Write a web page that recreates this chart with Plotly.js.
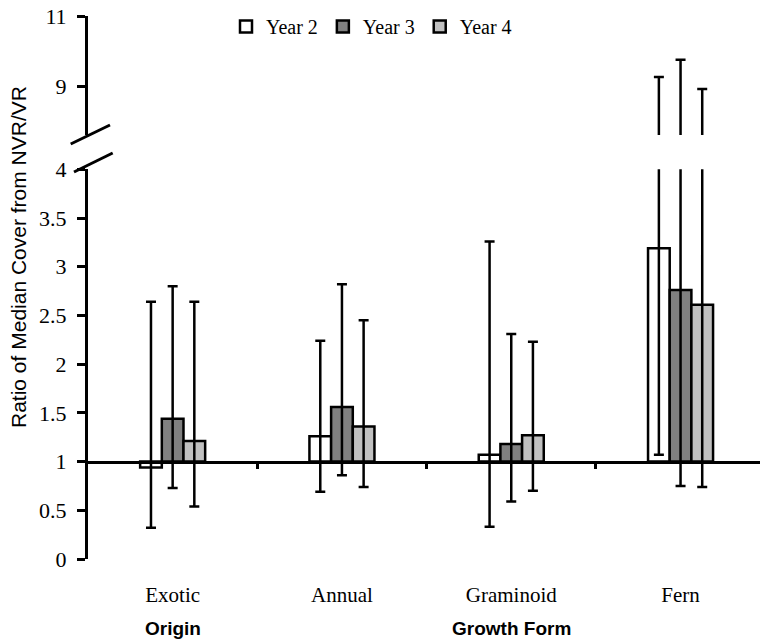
<!DOCTYPE html>
<html>
<head>
<meta charset="utf-8">
<script src="https://cdn.plot.ly/plotly-3.0.1.min.js"></script>
<style>html,body{margin:0;padding:0;background:#fff;}#chart{width:760px;height:639px;}</style>
</head>
<body>
<div id="chart"></div>
<script>
// ---- data ----
const categories = ['Exotic', 'Annual', 'Graminoid', 'Fern'];
const seriesNames = ['Year 2', 'Year 3', 'Year 4'];
const year2 = [0.94, 1.26, 1.07, 3.19];
const year3 = [1.44, 1.56, 1.18, 2.76];
const year4 = [1.21, 1.36, 1.27, 2.61];
const year2High = [2.64, 2.24, 3.26, 9.27];
const year3High = [2.80, 2.82, 2.31, 9.76];
const year4High = [2.64, 2.45, 2.23, 8.93];
const year2Low = [0.32, 0.69, 0.33, 1.07];
const year3Low = [0.73, 0.86, 0.59, 0.75];
const year4Low = [0.54, 0.74, 0.70, 0.74];
const baseline = 1;
const lowerTicks = [0, 0.5, 1, 1.5, 2, 2.5, 3, 3.5, 4];
const upperTicks = [9, 11];
const boundaryTicks = [0.5, 1.5, 2.5];
const groupLabels = ['Origin', 'Growth Form'];
const groupAt = ['Exotic', 'Graminoid'];
const yTitle = 'Ratio of Median Cover from NVR/VR';

// ---- styles ----
const fills = ['#ffffff', '#808080', '#c0c0c0'];
const serif = 'Liberation Serif, Times New Roman, serif';
const sans = 'Liberation Sans, Arial, sans-serif';
const values = [year2, year3, year4];
const highs = [year2High, year3High, year4High];
const lows = [year2Low, year3Low, year4Low];

const traces = [];
['y', 'y2'].forEach((ya, k) => {
  values.forEach((v, i) => {
    traces.push({
      type: 'bar',
      name: seriesNames[i],
      x: categories,
      y: v.map(d => d - baseline),
      base: baseline,
      xaxis: 'x',
      yaxis: ya,
      showlegend: k === 0,
      legendrank: i,
      marker: {color: fills[i], line: {color: '#000', width: 2.5}},
      error_y: {
        type: 'data', symmetric: false,
        array: highs[i].map((h, j) => h - v[j]),
        arrayminus: lows[i].map((l, j) => v[j] - l),
        color: '#000', thickness: 2.5, width: 5
      },
      hoverinfo: 'skip'
    });
  });
});
// empty helper trace so the baseline axis is drawn
traces.push({type: 'scatter', x: [], y: [], xaxis: 'x2', yaxis: 'y', showlegend: false, hoverinfo: 'skip'});

const L = 88, T = 16, B = 80, W = 760, H = 639;
const pw = W - L, ph = H - T - B;
const catPx = 169.3;
const xRange = [-0.5, -0.5 + pw / catPx];
const lowerDomain = [0, (H - B - 169.3) / ph];
const upperDomain = [(H - B - 135) / ph, 1];
const upperRange = [7.63, 11];
const px = p => (p - L) / pw;
const py = p => (H - B - p) / ph;

const layout = {
  width: W, height: H,
  margin: {l: L, r: 0, t: T, b: B, pad: 0},
  paper_bgcolor: '#fff', plot_bgcolor: 'rgba(0,0,0,0)',
  barmode: 'group', bargap: 0.616, bargroupgap: 0,
  showlegend: true,
  legend: {
    orientation: 'h', x: px(226), xanchor: 'left', y: py(7), yanchor: 'top',
    font: {family: serif, size: 20, color: '#000'},
    itemgap: 8, bgcolor: 'rgba(0,0,0,0)', traceorder: 'normal'
  },
  xaxis: {
    type: 'category', categoryorder: 'array', categoryarray: categories,
    range: xRange, anchor: 'y', side: 'bottom',
    showline: false, ticks: '', showgrid: false, zeroline: false,
    tickfont: {family: serif, size: 21, color: '#000'},
    ticklabelstandoff: 21, fixedrange: true
  },
  xaxis2: {
    type: 'linear', overlaying: 'x', anchor: 'free',
    position: lowerDomain[1] * (baseline - 0) / 4,
    range: xRange, showline: true, linecolor: '#000', linewidth: 3,
    ticks: 'outside', tickvals: boundaryTicks, ticklen: 5, tickwidth: 3, tickcolor: '#000',
    showticklabels: false, showgrid: false, zeroline: false, layer: 'above traces'
  },
  yaxis: {
    domain: lowerDomain, range: [0, 4], anchor: 'x',
    showline: true, linecolor: '#000', linewidth: 3,
    ticks: 'outside', tickvals: lowerTicks, ticklen: 8, tickwidth: 3, tickcolor: '#000',
    tickfont: {family: serif, size: 22, color: '#000'},
    ticklabelstandoff: 6, showgrid: false, zeroline: false
  },
  yaxis2: {
    domain: upperDomain, range: upperRange, anchor: 'x',
    showline: true, linecolor: '#000', linewidth: 3,
    ticks: 'outside', tickvals: upperTicks, ticklen: 8, tickwidth: 3, tickcolor: '#000',
    tickfont: {family: serif, size: 22, color: '#000'},
    ticklabelstandoff: 6, showgrid: false, zeroline: false
  },
  shapes: [
    {type: 'line', xref: 'paper', yref: 'paper', x0: px(70.7), y0: py(144), x1: px(110), y1: py(125), line: {color: '#000', width: 3}},
    {type: 'line', xref: 'paper', yref: 'paper', x0: px(74), y0: py(172), x1: px(112.7), y1: py(153), line: {color: '#000', width: 3}}
  ],
  annotations: [
    {text: yTitle, xref: 'paper', yref: 'paper', x: px(18), y: py(257), textangle: -90,
     showarrow: false, xanchor: 'center', yanchor: 'middle',
     font: {family: sans, size: 21, color: '#000'}},
    {text: '<b>' + groupLabels[0] + '</b>', xref: 'x', yref: 'paper', x: groupAt[0], y: py(628),
     showarrow: false, xanchor: 'center', yanchor: 'middle', font: {family: sans, size: 19, color: '#000'}},
    {text: '<b>' + groupLabels[1] + '</b>', xref: 'x', yref: 'paper', x: groupAt[1], y: py(628),
     showarrow: false, xanchor: 'center', yanchor: 'middle', font: {family: sans, size: 19, color: '#000'}}
  ]
};

Plotly.newPlot('chart', traces, layout, {staticPlot: true, displayModeBar: false});
</script>
</body>
</html>
